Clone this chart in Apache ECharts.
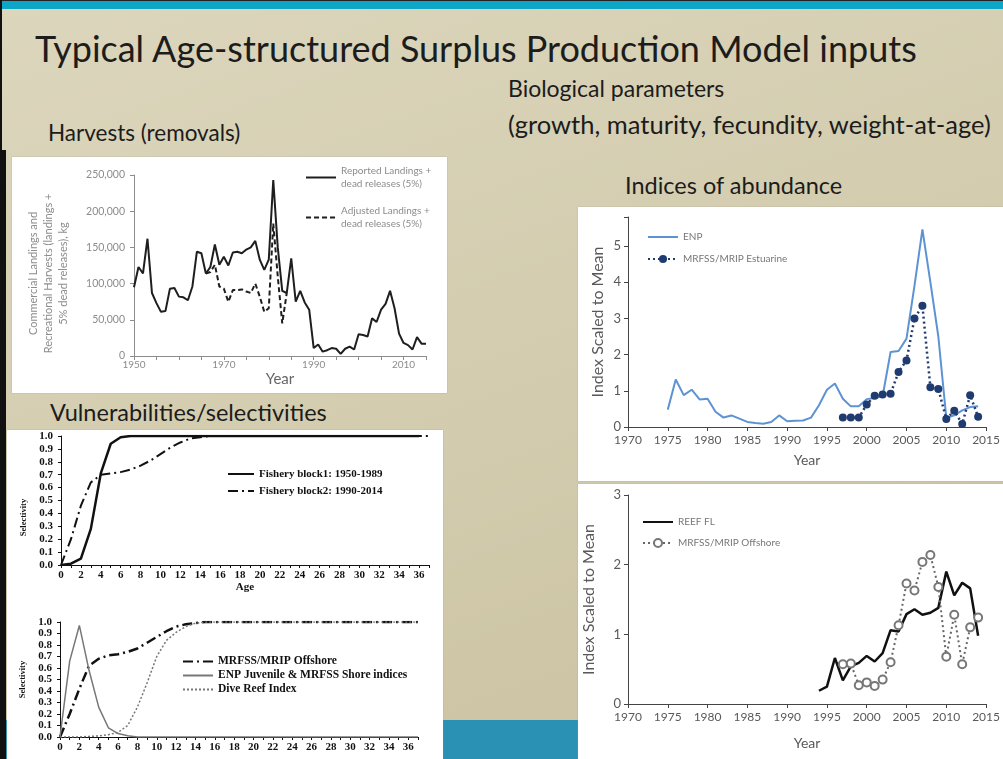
<!DOCTYPE html>
<html>
<head>
<meta charset="utf-8">
<script src="https://cdn.jsdelivr.net/npm/echarts@6/dist/echarts.min.js"></script>
<style>
  body { margin: 0; }
  .slide {
    position: relative;
    width: 1003px;
    height: 759px;
    overflow: hidden;
    background: linear-gradient(160deg, #dcd6bd 0%, #d2cbad 55%, #c9c09f 100%);
    font-family: Lato, 'Open Sans', sans-serif;
    color: #1c1c1c;
  }
  .bar-top { position: absolute; left: 0; top: 0; width: 1003px; height: 8px; background: #0ea6c6; border-top: 1px solid #222; }
  .bar-bottom { position: absolute; left: 0; top: 720px; width: 1003px; height: 39px; background: #2a91b4; }
  .edge-left { position: absolute; left: 0; top: 0; width: 2px; height: 759px; background: #111; }
  .edge-left-low { position: absolute; left: 0; top: 150px; width: 6px; height: 609px; background: #111; }
  .panel { position: absolute; background: #fff; box-shadow: 0 0 1px #999; }
  .txt { position: absolute; white-space: nowrap; line-height: 1; }
  #chart { position: absolute; left: 0; top: 0; width: 1003px; height: 759px; }
</style>
</head>
<body>
<div class="slide">
  <div class="bar-top"></div>
  <div class="bar-bottom"></div>
  <div class="edge-left"></div>
  <div class="edge-left-low"></div>

  <div class="panel" style="left:12px;top:157px;width:435px;height:236px"></div>
  <div class="panel" style="left:578px;top:207px;width:425px;height:274px"></div>
  <div class="panel" style="left:578px;top:484px;width:425px;height:275px"></div>
  <div class="panel" style="left:7px;top:430px;width:436px;height:329px"></div>

  <div class="txt" style="left:35px;top:30px;font-size:36px">Typical Age-structured Surplus Production Model inputs</div>
  <div class="txt" style="left:508px;top:77px;font-size:23px">Biological parameters</div>
  <div class="txt" style="left:508px;top:112px;font-size:25.5px">(growth, maturity, fecundity, weight-at-age)</div>
  <div class="txt" style="left:48px;top:122px;font-size:22.5px">Harvests (removals)</div>
  <div class="txt" style="left:625px;top:174px;font-size:23.5px">Indices of abundance</div>
  <div class="txt" style="left:50px;top:401px;font-size:23.5px">Vulnerabilities/selectivities</div>

  <div id="chart"></div>
</div>

<script>
// harvests (kg)
const harvestYears = [1950, 1951, 1952, 1953, 1954, 1955, 1956, 1957, 1958, 1959,
  1960, 1961, 1962, 1963, 1964, 1965, 1966, 1967, 1968, 1969,
  1970, 1971, 1972, 1973, 1974, 1975, 1976, 1977, 1978, 1979,
  1980, 1981, 1982, 1983, 1984, 1985, 1986, 1987, 1988, 1989,
  1990, 1991, 1992, 1993, 1994, 1995, 1996, 1997, 1998, 1999,
  2000, 2001, 2002, 2003, 2004, 2005, 2006, 2007, 2008, 2009,
  2010, 2011, 2012, 2013, 2014, 2015]
const reportedLandings = [95000, 123000, 114000, 162000, 87000, 73000, 61000, 62000, 93000, 94000,
  82000, 81000, 77000, 96000, 144000, 142000, 114000, 123000, 154000, 126000,
  137000, 125000, 143000, 144000, 142000, 147000, 150000, 159000, 133000, 119000,
  133000, 243000, 150000, 90000, 87000, 135000, 75000, 90000, 74000, 64000,
  11000, 16000, 6000, 8000, 11000, 10000, 3000, 10000, 13000, 9000,
  30000, 29000, 27000, 52000, 47000, 64000, 72000, 90000, 66000, 31000,
  18000, 15000, 9000, 26000, 17000, 17000]
const adjustedLandings = [null, null, null, null, null, null, null, null, null, null,
  null, null, null, null, null, null, 114000, 116000, 126000, 96000,
  93000, 75000, 91000, 91000, 92000, 89000, 87000, 100000, 82000, 61000,
  66000, 183000, 110000, 45000, 87000, null, null, null, null, null,
  null, null, null, null, null, null, null, null, null, null,
  null, null, null, null, null, null, null, null, null, null,
  null, null, null, null, null, null]

// indices of abundance
const enpYears = [1975, 1976, 1977, 1978, 1979, 1980, 1981, 1982, 1983, 1984,
  1985, 1986, 1987, 1988, 1989, 1990, 1991, 1992, 1993, 1994,
  1995, 1996, 1997, 1998, 1999, 2000, 2001, 2002, 2003, 2004,
  2005, 2006, 2007, 2008, 2009, 2010, 2011, 2012, 2013, 2014]
const enpIndex = [0.48, 1.31, 0.88, 1.03, 0.76, 0.78, 0.42, 0.26, 0.32, 0.23,
  0.14, 0.11, 0.09, 0.14, 0.32, 0.16, 0.17, 0.18, 0.26, 0.6,
  1.03, 1.2, 0.78, 0.57, 0.57, 0.77, 0.8, 0.85, 2.07, 2.1,
  2.44, 3.9, 5.46, 4.0, 2.5, 0.25, 0.32, 0.46, 0.55, 0.57]
const estuarineYears = [1997, 1998, 1999, 2000, 2001, 2002, 2003, 2004, 2005,
  2006, 2007, 2008, 2009, 2010, 2011, 2012, 2013, 2014]
const estuarineIndex = [0.26, 0.26, 0.26, 0.62, 0.86, 0.9, 0.92, 1.52, 1.84,
  3.0, 3.35, 1.1, 1.05, 0.22, 0.45, 0.08, 0.88, 0.28]
const reefYears = [1994, 1995, 1996, 1997, 1998, 1999, 2000, 2001, 2002, 2003, 2004,
  2005, 2006, 2007, 2008, 2009, 2010, 2011, 2012, 2013, 2014]
const reefIndex = [0.19, 0.25, 0.66, 0.34, 0.54, 0.59, 0.69, 0.61, 0.73, 1.06, 1.04,
  1.29, 1.36, 1.28, 1.31, 1.38, 1.9, 1.56, 1.74, 1.66, 0.98]
const offshoreYears = [1997, 1998, 1999, 2000, 2001, 2002, 2003, 2004, 2005,
  2006, 2007, 2008, 2009, 2010, 2011, 2012, 2013, 2014]
const offshoreIndex = [0.57, 0.58, 0.27, 0.31, 0.26, 0.35, 0.6, 1.13, 1.73,
  1.63, 2.04, 2.14, 1.68, 0.68, 1.28, 0.57, 1.1, 1.24]

// selectivities by age
const ages = [0, 1, 2, 3, 4, 5, 6, 7, 8, 9, 10, 11, 12, 13, 14, 15, 16, 17, 18,
  19, 20, 21, 22, 23, 24, 25, 26, 27, 28, 29, 30, 31, 32, 33, 34, 35, 36, 37]
const fisheryBlock1 = [0, 0.01, 0.05, 0.28, 0.71, 0.94, 0.99, 1, 1, 1, 1, 1, 1, 1, 1, 1, 1, 1, 1,
  1, 1, 1, 1, 1, 1, 1, 1, 1, 1, 1, 1, 1, 1, 1, 1, 1, 1, null]
const fisheryBlock2 = [0, 0.2, 0.46, 0.64, 0.7, 0.71, 0.72, 0.74, 0.77, 0.81, 0.86, 0.91, 0.95, 0.98, 0.99, 1, 1, 1, 1,
  1, 1, 1, 1, 1, 1, 1, 1, 1, 1, 1, 1, 1, 1, 1, 1, 1, 1, 1]
const offshoreSel = [0, 0.2, 0.42, 0.62, 0.68, 0.71, 0.72, 0.74, 0.77, 0.82, 0.87, 0.92, 0.96, 0.98, 0.99, 1, 1, 1, 1,
  1, 1, 1, 1, 1, 1, 1, 1, 1, 1, 1, 1, 1, 1, 1, 1, 1, 1, 1]
const enpJuvenileSel = [0, 0.66, 0.97, 0.58, 0.26, 0.08, 0.03, 0.01, 0, 0, 0, 0, 0, 0, 0, 0, 0, 0, 0,
  0, 0, 0, 0, 0, 0, 0, 0, 0, 0, 0, 0, 0, 0, 0, 0, 0, 0, 0]
const diveReefSel = [0, 0, 0, 0.005, 0.01, 0.02, 0.04, 0.1, 0.26, 0.47, 0.7, 0.84, 0.91, 0.96, 0.99, 1, 1, 1, 1,
  1, 1, 1, 1, 1, 1, 1, 1, 1, 1, 1, 1, 1, 1, 1, 1, 1, 1, 1]

const harvestLabelYears = [1950, 1970, 1990, 2010]
const indexLabelYears = [1970, 1975, 1980, 1985, 1990, 1995, 2000, 2005, 2010, 2015]

const pairs = (xs, ys) => xs.map((x, i) => [x, ys[i]])

const sans = 'Lato'
const serif = 'Liberation Serif'
const legendLabels = { 'MRFSS/MRIP Offshore sel': 'MRFSS/MRIP Offshore' }

// legend entry drawn as a plain line (no marker)
const lineOnly = name => ({ name: name, itemStyle: { opacity: 0 } })

const grayAxis = (color) => ({
  axisLine: { lineStyle: { color: color, width: 1 } },
  axisTick: { show: true, length: 4, lineStyle: { color: color } },
  splitLine: { show: false }
})

const selX = (grid, name) => ({
  type: 'value', gridIndex: grid, min: 0, max: 37, interval: 1,
  ...grayAxis('#111'),
  axisTick: { show: true, length: 3, lineStyle: { color: '#111' } },
  axisLabel: {
    margin: 5, color: '#111', fontFamily: serif, fontWeight: 'bold', fontSize: 11,
    formatter: v => (v % 2 === 0 && v <= 36 ? v : '')
  },
  name: name, nameLocation: 'middle', nameGap: 15,
  nameTextStyle: { color: '#111', fontFamily: serif, fontWeight: 'bold', fontSize: 11 }
})

// shift: moves the rotated axis name down by that many px
const selY = (grid, shift) => ({
  type: 'value', gridIndex: grid, min: 0, max: 1, interval: 0.1,
  ...grayAxis('#111'),
  axisTick: { show: true, length: 3, lineStyle: { color: '#111' } },
  axisLabel: {
    margin: 8, color: '#111', fontFamily: serif, fontWeight: 'bold', fontSize: 11,
    formatter: v => v.toFixed(1)
  },
  name: 'Selectivity', nameLocation: 'middle', nameGap: 33, nameRotate: 90,
  nameTextStyle: { color: '#111', fontFamily: serif, fontWeight: 'bold', fontSize: 8.5,
    padding: [0, shift * 2, 0, 0] }
})

const indexX = (grid, gap) => ({
  type: 'value', gridIndex: grid, min: 1970, max: 2015, interval: 5,
  ...grayAxis('#444'),
  axisLabel: { margin: 7, color: '#595959', fontFamily: sans, fontSize: 12,
    formatter: v => (indexLabelYears.includes(v) ? v : '') },
  name: 'Year', nameLocation: 'middle', nameGap: gap,
  nameTextStyle: { color: '#595959', fontFamily: sans, fontSize: 14 }
})

const indexY = (grid, max, gap) => ({
  type: 'value', gridIndex: grid, min: 0, max: max, interval: 1,
  ...grayAxis('#444'),
  axisLabel: { margin: 7, color: '#595959', fontFamily: sans, fontSize: 13,
    formatter: v => (Number.isInteger(v) ? v : '') },
  name: 'Index Scaled to Mean', nameLocation: 'middle', nameGap: gap, nameRotate: 90,
  nameTextStyle: { color: '#595959', fontFamily: sans, fontSize: 16 }
})

const line = (name, x, y, data, style, extra) => ({
  name: name, type: 'line', xAxisIndex: x, yAxisIndex: y, data: data,
  symbol: 'none', silent: true, animation: false,
  lineStyle: style, itemStyle: { color: style.color },
  ...extra
})

const chart = echarts.init(document.getElementById('chart'), null, { renderer: 'canvas' })

const option = {
  backgroundColor: 'transparent',
  animation: false,
  grid: [
    { left: 134, top: 175, width: 292, height: 181 },
    { left: 628, top: 217, width: 364, height: 210 },
    { left: 628, top: 495, width: 364, height: 209 },
    { left: 61, top: 436, width: 368, height: 129 },
    { left: 60, top: 622, width: 358, height: 115 }
  ],
  xAxis: [
    {
      type: 'value', gridIndex: 0, min: 1950, max: 2015, interval: 5,
      ...grayAxis('#8c8c8c'),
      axisLabel: { margin: 4, color: '#8c8c8c', fontFamily: sans, fontSize: 10,
        formatter: v => (harvestLabelYears.includes(v) ? v : '') },
      name: 'Year', nameLocation: 'middle', nameGap: 16,
      nameTextStyle: { color: '#666', fontFamily: sans, fontSize: 15 }
    },
    indexX(1, 26),
    indexX(2, 32),
    selX(3, 'Age'),
    selX(4, '')
  ],
  yAxis: [
    {
      type: 'value', gridIndex: 0, min: 0, max: 250000, interval: 50000,
      ...grayAxis('#8c8c8c'),
      axisLabel: { margin: 9, color: '#8c8c8c', fontFamily: sans, fontSize: 10.5,
        formatter: v => v.toLocaleString('en-US') },
      name: 'Commercial Landings and\nRecreational Harvests (landings +\n5% dead releases), kg',
      nameLocation: 'middle', nameGap: 63, nameRotate: 90,
      nameTextStyle: { color: '#8c8c8c', fontFamily: sans, fontSize: 11, lineHeight: 15,
        padding: [0, 16, 0, 0] }
    },
    indexY(1, 5.8, 22),
    indexY(2, 3, 31),
    selY(3, 17),
    selY(4, 0)
  ],
  legend: [
    {
      data: [lineOnly('Reported Landings +\ndead releases (5%)'), lineOnly('Adjusted Landings +\ndead releases (5%)')],
      orient: 'vertical', left: 305, top: 158, padding: 0, itemGap: 1,
      itemWidth: 30, itemHeight: 10, selectedMode: false,
      textStyle: { color: '#8c8c8c', fontFamily: sans, fontSize: 10, lineHeight: 13, padding: [13, 0, 0, 0] }
    },
    {
      data: [lineOnly('ENP'), 'MRFSS/MRIP Estuarine'],
      orient: 'vertical', left: 647, top: 231, padding: 0, itemGap: 10,
      itemWidth: 30, itemHeight: 10, selectedMode: false,
      textStyle: { color: '#777', fontFamily: sans, fontSize: 10, lineHeight: 12 }
    },
    {
      data: [lineOnly('REEF FL'), 'MRFSS/MRIP Offshore'],
      orient: 'vertical', left: 642, top: 516, padding: 0, itemGap: 9,
      itemWidth: 30, itemHeight: 10, selectedMode: false,
      textStyle: { color: '#777', fontFamily: sans, fontSize: 10, lineHeight: 12 }
    },
    {
      data: [lineOnly('Fishery block1: 1950-1989'), lineOnly('Fishery block2: 1990-2014')],
      orient: 'vertical', left: 227, top: 467, padding: 0, itemGap: 3,
      itemWidth: 26, itemHeight: 10, selectedMode: false,
      textStyle: { color: '#111', fontFamily: serif, fontWeight: 'bold', fontSize: 11, lineHeight: 14 }
    },
    {
      data: [lineOnly('MRFSS/MRIP Offshore sel'), lineOnly('ENP Juvenile & MRFSS Shore indices'), lineOnly('Dive Reef Index')],
      orient: 'vertical', left: 182, top: 655, padding: 0, itemGap: 1,
      itemWidth: 30, itemHeight: 10, selectedMode: false,
      formatter: name => legendLabels[name] || name,
      textStyle: { color: '#111', fontFamily: serif, fontWeight: 'bold', fontSize: 11.5, lineHeight: 13 }
    }
  ],
  series: [
    line('Reported Landings +\ndead releases (5%)', 0, 0, pairs(harvestYears, reportedLandings),
      { color: '#1e1e1e', width: 2 }, { z: 4 }),
    line('Adjusted Landings +\ndead releases (5%)', 0, 0, pairs(harvestYears, adjustedLandings),
      { color: '#1e1e1e', width: 2, type: [5, 3] }, { z: 3 }),

    line('ENP', 1, 1, pairs(enpYears, enpIndex),
      { color: '#5e93d3', width: 2 }),
    line('MRFSS/MRIP Estuarine', 1, 1, pairs(estuarineYears, estuarineIndex),
      { color: '#1f3b70', width: 2.5, type: [2, 3] },
      { symbol: 'circle', symbolSize: 8, itemStyle: { color: '#1f3b70' } }),

    line('REEF FL', 2, 2, pairs(reefYears, reefIndex),
      { color: '#111', width: 2.5 }),
    line('MRFSS/MRIP Offshore', 2, 2, pairs(offshoreYears, offshoreIndex),
      { color: '#666', width: 2, type: [2, 3] },
      { symbol: 'emptyCircle', symbolSize: 8, itemStyle: { color: '#777', borderWidth: 1.5 } }),

    line('Fishery block1: 1950-1989', 3, 3, pairs(ages, fisheryBlock1),
      { color: '#111', width: 2.5 }),
    line('Fishery block2: 1990-2014', 3, 3, pairs(ages, fisheryBlock2),
      { color: '#111', width: 2, type: [10, 4, 2, 4] }),

    line('MRFSS/MRIP Offshore sel', 4, 4, pairs(ages, offshoreSel),
      { color: '#111', width: 2.5, type: [10, 4, 2, 4] }),
    line('ENP Juvenile & MRFSS Shore indices', 4, 4, pairs(ages, enpJuvenileSel),
      { color: '#777', width: 1.5 }),
    line('Dive Reef Index', 4, 4, pairs(ages, diveReefSel),
      { color: '#777', width: 1.5, type: [2, 2] })
  ]
}

chart.setOption(option)

window.addEventListener('resize', () => chart.resize())
</script>
</body>
</html>
